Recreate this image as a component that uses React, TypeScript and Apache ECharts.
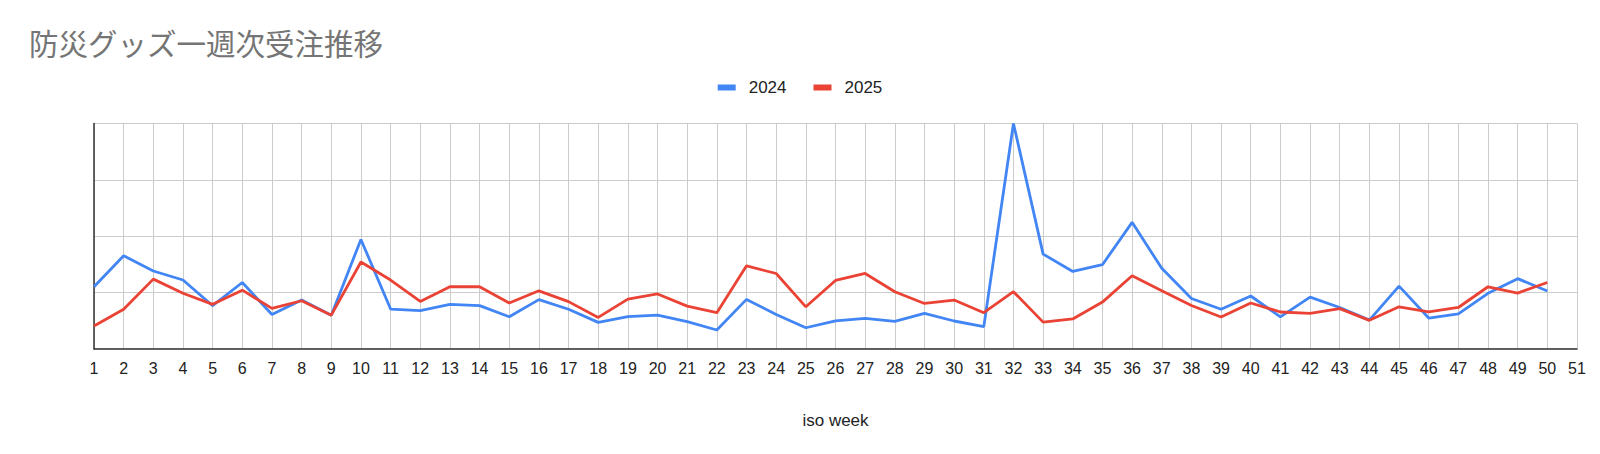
import React, { useEffect, useRef } from "react";
import * as echarts from "echarts";

const weeks: string[] = Array.from({ length: 51 }, (_, i) => String(i + 1));

const series2024: number[] = [
  27.5, 41.3, 34.5, 30.5, 19.1, 29.4, 15.2, 21.6, 14.9, 48.5,
  17.6, 16.9, 19.7, 19.1, 14.2, 21.8, 17.5, 11.7, 14.2, 14.9,
  12.0, 8.3, 21.9, 15.2, 9.3, 12.4, 13.5, 12.1, 15.7, 12.3,
  9.8, 100, 42.0, 34.3, 37.3, 56.1, 35.7, 22.3, 17.5, 23.4,
  14.1, 22.9, 18.3, 12.7, 27.8, 13.6, 15.5, 24.6, 31.1, 25.6,
];

const series2025: number[] = [
  10.1, 17.5, 30.9, 24.6, 19.7, 26.0, 17.9, 21.3, 14.9, 38.5,
  30.5, 21.0, 27.5, 27.5, 20.3, 25.7, 20.9, 13.9, 22.0, 24.3,
  18.9, 16.0, 36.8, 33.4, 18.6, 30.3, 33.4, 25.3, 20.1, 21.6,
  16.0, 25.3, 11.8, 13.2, 20.7, 32.4, 25.7, 19.2, 14.1, 20.3,
  16.3, 15.7, 17.8, 12.6, 18.6, 16.4, 18.3, 27.5, 24.7, 29.4,
];

const seriesNames: string[] = ["2024", "2025"];
const seriesColors: string[] = ["#4285F4", "#EA4335"];
const titleText = "防災グッズ一週次受注推移";
const xAxisName = "iso week";

export default function App() {
  const ref = useRef<HTMLDivElement>(null);

  useEffect(() => {
    if (!ref.current) return;
    const chart = echarts.init(ref.current, undefined, { renderer: "svg" });
    const font = "Arial, 'Liberation Sans', 'Noto Sans CJK JP', sans-serif";
    chart.setOption({
      animation: false,
      backgroundColor: "#ffffff",
      title: {
        text: titleText,
        left: 24,
        top: 22,
        textStyle: {
          fontFamily: "'Noto Sans CJK JP', sans-serif",
          fontSize: 29.5,
          fontWeight: "normal",
          color: "#757575",
        },
      },
      legend: {
        top: 74,
        left: "center",
        icon: "rect",
        itemWidth: 18,
        itemHeight: 6,
        itemGap: 27,
        textStyle: {
          fontFamily: font,
          fontSize: 17,
          color: "#222222",
          padding: [0, 0, 0, 8],
        },
        data: seriesNames,
      },
      grid: {
        left: 94,
        right: 23,
        top: 123.5,
        bottom: 105.3,
        containLabel: false,
      },
      xAxis: {
        type: "category",
        data: weeks,
        boundaryGap: false,
        name: xAxisName,
        nameLocation: "middle",
        nameGap: 63,
        nameTextStyle: { fontFamily: font, fontSize: 17, color: "#222222" },
        axisLine: { show: true, lineStyle: { color: "#333333", width: 1.5 } },
        axisTick: { show: false },
        axisLabel: {
          interval: 0,
          margin: 12,
          fontFamily: font,
          fontSize: 16,
          color: "#222222",
        },
        splitLine: { show: true, interval: 0, lineStyle: { color: "#cccccc", width: 1 } },
      },
      yAxis: {
        type: "value",
        min: 0,
        max: 100,
        interval: 25,
        axisLine: { show: true, lineStyle: { color: "#333333", width: 1.5 } },
        axisTick: { show: false },
        axisLabel: { show: false },
        splitLine: { show: true, lineStyle: { color: "#cccccc", width: 1 } },
      },
      series: [
        {
          name: seriesNames[0],
          type: "line",
          data: series2024,
          symbol: "none",
          lineStyle: { color: seriesColors[0], width: 2.8 },
          itemStyle: { color: seriesColors[0] },
          z: 2,
        },
        {
          name: seriesNames[1],
          type: "line",
          data: series2025,
          symbol: "none",
          lineStyle: { color: seriesColors[1], width: 2.8 },
          itemStyle: { color: seriesColors[1] },
          z: 3,
        },
      ],
    });
    return () => chart.dispose();
  }, []);

  return (
    <div
      ref={ref}
      style={{ position: "fixed", left: 0, top: 0, width: 1600, height: 454, background: "#fff" }}
    />
  );
}
